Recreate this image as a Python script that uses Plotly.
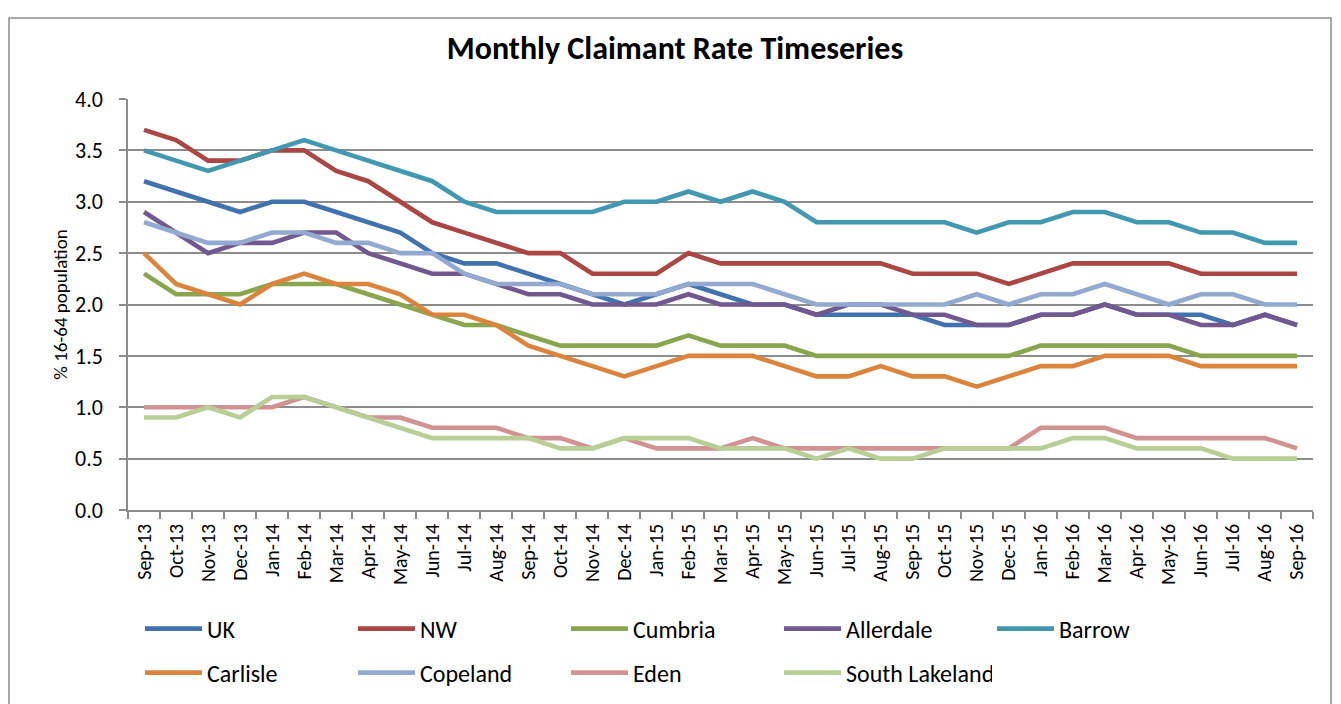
import plotly.graph_objects as go

months = ["Sep-13", "Oct-13", "Nov-13", "Dec-13", "Jan-14", "Feb-14", "Mar-14", "Apr-14",
          "May-14", "Jun-14", "Jul-14", "Aug-14", "Sep-14", "Oct-14", "Nov-14", "Dec-14",
          "Jan-15", "Feb-15", "Mar-15", "Apr-15", "May-15", "Jun-15", "Jul-15", "Aug-15",
          "Sep-15", "Oct-15", "Nov-15", "Dec-15", "Jan-16", "Feb-16", "Mar-16", "Apr-16",
          "May-16", "Jun-16", "Jul-16", "Aug-16", "Sep-16"]

uk = [3.2, 3.1, 3.0, 2.9, 3.0, 3.0, 2.9, 2.8, 2.7, 2.5, 2.4, 2.4,
      2.3, 2.2, 2.1, 2.0, 2.1, 2.2, 2.1, 2.0, 2.0, 1.9, 1.9, 1.9,
      1.9, 1.8, 1.8, 1.8, 1.9, 1.9, 2.0, 1.9, 1.9, 1.9, 1.8, 1.9, 1.8]
nw = [3.7, 3.6, 3.4, 3.4, 3.5, 3.5, 3.3, 3.2, 3.0, 2.8, 2.7, 2.6,
      2.5, 2.5, 2.3, 2.3, 2.3, 2.5, 2.4, 2.4, 2.4, 2.4, 2.4, 2.4,
      2.3, 2.3, 2.3, 2.2, 2.3, 2.4, 2.4, 2.4, 2.4, 2.3, 2.3, 2.3, 2.3]
cumbria = [2.3, 2.1, 2.1, 2.1, 2.2, 2.2, 2.2, 2.1, 2.0, 1.9, 1.8, 1.8,
           1.7, 1.6, 1.6, 1.6, 1.6, 1.7, 1.6, 1.6, 1.6, 1.5, 1.5, 1.5,
           1.5, 1.5, 1.5, 1.5, 1.6, 1.6, 1.6, 1.6, 1.6, 1.5, 1.5, 1.5, 1.5]
allerdale = [2.9, 2.7, 2.5, 2.6, 2.6, 2.7, 2.7, 2.5, 2.4, 2.3, 2.3, 2.2,
             2.1, 2.1, 2.0, 2.0, 2.0, 2.1, 2.0, 2.0, 2.0, 1.9, 2.0, 2.0,
             1.9, 1.9, 1.8, 1.8, 1.9, 1.9, 2.0, 1.9, 1.9, 1.8, 1.8, 1.9, 1.8]
barrow = [3.5, 3.4, 3.3, 3.4, 3.5, 3.6, 3.5, 3.4, 3.3, 3.2, 3.0, 2.9,
          2.9, 2.9, 2.9, 3.0, 3.0, 3.1, 3.0, 3.1, 3.0, 2.8, 2.8, 2.8,
          2.8, 2.8, 2.7, 2.8, 2.8, 2.9, 2.9, 2.8, 2.8, 2.7, 2.7, 2.6, 2.6]
carlisle = [2.5, 2.2, 2.1, 2.0, 2.2, 2.3, 2.2, 2.2, 2.1, 1.9, 1.9, 1.8,
            1.6, 1.5, 1.4, 1.3, 1.4, 1.5, 1.5, 1.5, 1.4, 1.3, 1.3, 1.4,
            1.3, 1.3, 1.2, 1.3, 1.4, 1.4, 1.5, 1.5, 1.5, 1.4, 1.4, 1.4, 1.4]
copeland = [2.8, 2.7, 2.6, 2.6, 2.7, 2.7, 2.6, 2.6, 2.5, 2.5, 2.3, 2.2,
            2.2, 2.2, 2.1, 2.1, 2.1, 2.2, 2.2, 2.2, 2.1, 2.0, 2.0, 2.0,
            2.0, 2.0, 2.1, 2.0, 2.1, 2.1, 2.2, 2.1, 2.0, 2.1, 2.1, 2.0, 2.0]
eden = [1.0, 1.0, 1.0, 1.0, 1.0, 1.1, 1.0, 0.9, 0.9, 0.8, 0.8, 0.8,
        0.7, 0.7, 0.6, 0.7, 0.6, 0.6, 0.6, 0.7, 0.6, 0.6, 0.6, 0.6,
        0.6, 0.6, 0.6, 0.6, 0.8, 0.8, 0.8, 0.7, 0.7, 0.7, 0.7, 0.7, 0.6]
south_lakeland = [0.9, 0.9, 1.0, 0.9, 1.1, 1.1, 1.0, 0.9, 0.8, 0.7, 0.7, 0.7,
                  0.7, 0.6, 0.6, 0.7, 0.7, 0.7, 0.6, 0.6, 0.6, 0.5, 0.6, 0.5,
                  0.5, 0.6, 0.6, 0.6, 0.6, 0.7, 0.7, 0.6, 0.6, 0.6, 0.5, 0.5, 0.5]

series_names = ["UK", "NW", "Cumbria", "Allerdale", "Barrow",
                "Carlisle", "Copeland", "Eden", "South Lakeland"]
series_values = [uk, nw, cumbria, allerdale, barrow,
                 carlisle, copeland, eden, south_lakeland]
series_colors = ["#4272AE", "#AA4643", "#89A54E", "#71588F", "#4198AF",
                 "#DB843D", "#93A9CF", "#D19392", "#B9CD96"]
legend_ids = ["legend", "legend", "legend", "legend", "legend",
              "legend2", "legend2", "legend2", "legend2"]

y_ticks = [0.0, 0.5, 1.0, 1.5, 2.0, 2.5, 3.0, 3.5, 4.0]

FONT = "Calibri, Carlito, Lato, sans-serif"
GRID = "#8C8C8C"

fig = go.Figure()
for name, vals, col, lg in zip(series_names, series_values, series_colors, legend_ids):
    fig.add_trace(go.Scatter(
        x=months, y=vals, name=name, mode="lines",
        line=dict(color=col, width=4.6),
        legend=lg,
    ))

W, H = 1341, 704
L, R, T, B = 128, 28, 99, 194
pw, ph = W - L - R, H - T - B


def px_x(x):
    return (x - L) / pw


def px_y(y):
    return (H - B - y) / ph


legend_common = dict(
    orientation="h", xanchor="left", yanchor="middle",
    xref="container", yref="container", x=140 / W,
    font=dict(family=FONT, size=24, color="#000000"),
    itemwidth=57,
    entrywidth=141, entrywidthmode="pixels",
    bgcolor="rgba(0,0,0,0)", traceorder="normal",
)

fig.update_layout(
    width=W, height=H,
    margin=dict(l=L, r=R, t=T, b=B, autoexpand=False),
    paper_bgcolor="white", plot_bgcolor="white",
    font=dict(family=FONT, color="#000000"),
    title=dict(text="<b>Monthly Claimant Rate Timeseries</b>",
               x=px_x(675), xref="paper", xanchor="center",
               y=1 - 48 / H, yref="container", yanchor="middle",
               font=dict(family=FONT, size=32, color="#000000")),
    xaxis=dict(
        type="category", categoryorder="array", categoryarray=months,
        range=[-0.5, len(months) - 0.5],
        showline=True, linecolor=GRID, linewidth=1.5,
        ticks="outside", tickson="boundaries", ticklen=7, tickcolor=GRID, tickwidth=1.5,
        tickangle=-90, tickfont=dict(family=FONT, size=20, color="#000000"),
        ticklabelstandoff=4,
        showgrid=False, zeroline=False,
    ),
    yaxis=dict(
        range=[0, 4.0], tickvals=y_ticks, tickformat=".1f",
        showline=True, linecolor=GRID, linewidth=1.5,
        ticks="outside", ticklen=7, tickcolor=GRID, tickwidth=1.5,
        tickfont=dict(family=FONT, size=22, color="#000000"),
        ticklabelstandoff=12,
        showgrid=True, gridcolor=GRID, gridwidth=1.5, zeroline=False,
        title=dict(text="% 16-64 population", font=dict(family=FONT, size=19, color="#000000"),
                   standoff=2),
    ),
    legend=dict(y=1 - 629 / H, **legend_common),
    legend2=dict(y=1 - 673 / H, **legend_common),
    shapes=[dict(type="rect", xref="paper", yref="paper",
                 x0=px_x(9), x1=px_x(1331), y0=px_y(720), y1=px_y(18),
                 line=dict(color=GRID, width=1.5), fillcolor="rgba(0,0,0,0)", layer="below")],
)

fig.write_html("out.html", config={"displayModeBar": False},
               post_script="document.body.style.margin='0';document.body.style.overflow='hidden';")
